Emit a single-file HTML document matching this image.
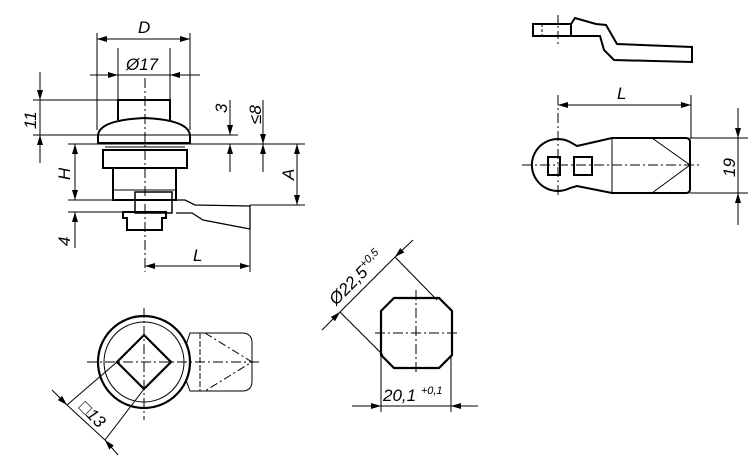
<!DOCTYPE html>
<html><head><style>html,body{margin:0;padding:0;background:#fff}svg{display:block}</style></head><body>
<svg width="750" height="458" viewBox="0 0 750 458" xmlns="http://www.w3.org/2000/svg" font-family="Liberation Sans, sans-serif" font-style="italic" font-size="17" fill="none" stroke="#000">
<defs>
<marker id="a" viewBox="0 0 10 6" refX="10" refY="3" markerWidth="10" markerHeight="6" orient="auto-start-reverse" markerUnits="userSpaceOnUse"><path d="M0,0 L10,3 L0,6z" fill="#000" stroke="none"/></marker>
</defs>
<g stroke-width="1">
<line x1="97" y1="33" x2="97" y2="130"/><line x1="190" y1="33" x2="190" y2="130"/>
<line x1="97" y1="39" x2="190" y2="39" marker-start="url(#a)" marker-end="url(#a)"/>
<line x1="118" y1="48" x2="118" y2="100"/><line x1="170" y1="48" x2="170" y2="100"/>
<line x1="90" y1="75" x2="118" y2="75" marker-end="url(#a)"/><line x1="200" y1="75" x2="170" y2="75" marker-end="url(#a)"/><line x1="118" y1="75" x2="170" y2="75"/>
<line x1="33" y1="100" x2="118" y2="100"/><line x1="33" y1="135" x2="238" y2="135"/>
<line x1="40" y1="72" x2="40" y2="100" marker-end="url(#a)"/><line x1="40" y1="163" x2="40" y2="135" marker-end="url(#a)"/><line x1="40" y1="100" x2="40" y2="135"/>
<line x1="68" y1="144" x2="305" y2="144"/>
<line x1="75" y1="144" x2="75" y2="200" marker-start="url(#a)" marker-end="url(#a)"/>
<line x1="68" y1="200" x2="135" y2="200"/><line x1="68" y1="212" x2="125" y2="212"/>
<line x1="75" y1="248" x2="75" y2="212" marker-end="url(#a)"/>
<line x1="230" y1="100" x2="230" y2="135" marker-end="url(#a)"/><line x1="230" y1="172" x2="230" y2="144" marker-end="url(#a)"/>
<line x1="263" y1="100" x2="263" y2="144" marker-end="url(#a)"/><line x1="263" y1="172" x2="263" y2="144" marker-end="url(#a)"/>
<line x1="297" y1="144" x2="297" y2="205" marker-start="url(#a)" marker-end="url(#a)"/>
<line x1="250" y1="205" x2="305" y2="205"/>
<line x1="250" y1="205" x2="250" y2="272"/>
<line x1="145" y1="266" x2="250" y2="266" marker-start="url(#a)" marker-end="url(#a)"/>
<line x1="145" y1="78" x2="145" y2="272" stroke-dasharray="10,3,2,3"/>
</g>
<g stroke-width="2">
<path d="M118,120 V100 H170 V120"/>
<path d="M98,135 Q100,120 145,118 Q188,120 190,135 V143 H98 Z"/>
<line x1="105" y1="147" x2="185" y2="147" stroke-width="1"/>
<rect x="103" y="150" width="84" height="18"/>
<path d="M113,168 V200 H176 V168"/>
<line x1="113" y1="190" x2="176" y2="190" stroke-width="1"/>
<path d="M135,192 H172 V213 H135 Z" stroke-width="1.5"/>
<path d="M176,200 H185 L195,205 L250,206 M176,213 H192 L203,220 L250,229 M250,206 V229" stroke-width="1.3"/>
<path d="M123,212 H166 V218 H162 V230 H127 V218 H123 Z"/>
</g>
<g fill="#000" stroke="none">
<text x="138" y="33">D</text><text x="126" y="70">Ø17</text>
<text transform="translate(36,129) rotate(-90)">11</text>
<text transform="translate(70,180) rotate(-90)">H</text>
<text transform="translate(70,246) rotate(-90)">4</text>
<text transform="translate(227,113) rotate(-90)">3</text>
<text transform="translate(261,124) rotate(-90)">≤8</text>
<text transform="translate(294,180) rotate(-90)">A</text>
<text x="193" y="261">L</text>
</g>
<g stroke-width="2">
<rect x="533" y="24" width="38" height="12"/>
<path d="M571,24 L575,18 L596,24 L606,25 L617,44 L692,47 V62 L614,60 L604,50 L600,36 H571"/>
<path d="M577,146 L612,138 H686 Q690,138 690,142 V189 Q690,193 686,193 H612 L577,186 L570,188 A26,26 0 1 1 570,142 Z"/>
<rect x="548" y="157" width="12" height="18"/><rect x="574" y="157" width="18" height="18"/>
</g>
<g stroke-width="1">
<line x1="542" y1="24" x2="542" y2="36" stroke-dasharray="3,2"/>
<line x1="558" y1="15" x2="558" y2="46" stroke-dasharray="8,3,2,3"/>
<line x1="612" y1="138" x2="612" y2="193"/>
<path d="M652,138 L690,165 L652,193"/>
<line x1="522" y1="165" x2="700" y2="165" stroke-dasharray="10,3,2,3"/>
<line x1="558" y1="95" x2="558" y2="197" stroke-dasharray="10,3,2,3"/>
<line x1="691" y1="95" x2="691" y2="138"/>
<line x1="558" y1="105" x2="691" y2="105" marker-start="url(#a)" marker-end="url(#a)"/>
<line x1="690" y1="138" x2="748" y2="138"/><line x1="690" y1="193" x2="748" y2="193"/>
<line x1="738" y1="108" x2="738" y2="138" marker-end="url(#a)"/><line x1="738" y1="225" x2="738" y2="193" marker-end="url(#a)"/><line x1="738" y1="138" x2="738" y2="193"/>
</g>
<g fill="#000" stroke="none"><text x="617" y="99">L</text><text transform="translate(735,177) rotate(-90)">19</text></g>
<g stroke-width="1">
<line x1="87" y1="362" x2="260" y2="362" stroke-dasharray="10,3,2,3"/>
<line x1="144" y1="308" x2="144" y2="420" stroke-dasharray="10,3,2,3"/>
<circle cx="144" cy="362" r="40"/>
<path d="M186,345 L190,333 H242 Q252,333 252,343 V381 Q252,391 242,391 H190 L186,380"/>
<line x1="200" y1="333" x2="200" y2="391" stroke-dasharray="6,2"/>
<path d="M205,333 L252,362 L205,391" stroke-dasharray="8,3,2,3"/>
<line x1="117" y1="362" x2="67" y2="405"/><line x1="144" y1="389" x2="105" y2="440"/>
<line x1="52" y1="390" x2="67" y2="405" marker-end="url(#a)"/><line x1="118" y1="455" x2="105" y2="440" marker-end="url(#a)"/><line x1="67" y1="405" x2="105" y2="440"/>
</g>
<g stroke-width="2.2"><circle cx="144" cy="362" r="46"/><path d="M144,335 L171,362 L144,389 L117,362 Z"/></g>
<g fill="#000" stroke="none"><text transform="translate(78,408) rotate(45)">□13</text></g>
<path d="M394,298 H439 L452,311 V355 L439,368 H394 L381,355 V311 Z" stroke-width="2.2"/>
<g stroke-width="1">
<line x1="375" y1="333" x2="460" y2="333" stroke-dasharray="10,3,2,3"/>
<line x1="416" y1="290" x2="416" y2="373" stroke-dasharray="10,3,2,3"/>
<line x1="340" y1="312" x2="383" y2="355"/><line x1="395" y1="257" x2="437" y2="300"/>
<line x1="322" y1="330" x2="340" y2="312" marker-end="url(#a)"/><line x1="413" y1="240" x2="395" y2="257" marker-end="url(#a)"/><line x1="340" y1="312" x2="395" y2="257"/>
<line x1="381" y1="355" x2="381" y2="412"/><line x1="451" y1="355" x2="451" y2="412"/>
<line x1="352" y1="406" x2="381" y2="406" marker-end="url(#a)"/><line x1="478" y1="406" x2="451" y2="406" marker-end="url(#a)"/><line x1="381" y1="406" x2="451" y2="406"/>
</g>
<g fill="#000" stroke="none">
<text transform="translate(336,306) rotate(-45)">Ø22,5<tspan font-size="11" dy="-7">+0,5</tspan></text>
<text x="383" y="401">20,1 <tspan font-size="11" dy="-7">+0,1</tspan></text>
</g>
</svg>
</body></html>
